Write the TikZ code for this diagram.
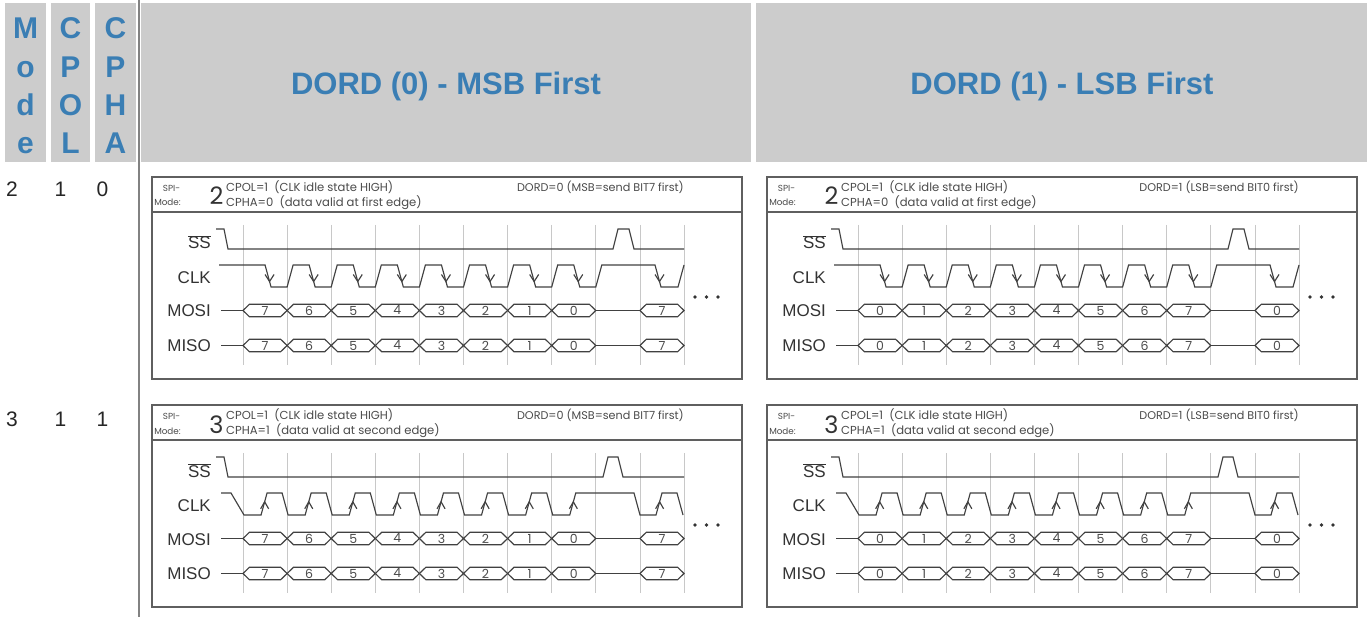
\documentclass[tikz,border=0pt]{standalone}
\usepackage{fontspec}
\setmainfont{Liberation Sans}
\newfontfamily\geo{Poppins}
\definecolor{hdrblue}{RGB}{58,126,180}
\definecolor{cellgray}{RGB}{204,204,204}
\definecolor{sepgray}{RGB}{130,130,130}
\definecolor{frameg}{RGB}{95,95,95}
\definecolor{sigc}{RGB}{65,65,65}
\definecolor{gridc}{RGB}{200,200,200}
\definecolor{txtg}{RGB}{75,75,75}
\tikzset{
 hdrtxt/.style={text=hdrblue, font=\fontsize{31}{31}\selectfont\bfseries, inner sep=0, anchor=base},
 colletter/.style={text=hdrblue, font=\fontsize{30}{30}\selectfont\bfseries, inner sep=0, anchor=base},
 rownum/.style={text=black!85, font=\fontsize{21}{21}\selectfont, inner sep=0, anchor=base west},
 frame/.style={draw=frameg, line width=1.6},
 sig/.style={draw=sigc, line width=1.15, line join=miter},
 gridl/.style={draw=gridc, line width=0.7},
 smalltxt/.style={text=txtg, font=\geo\fontsize{11.6}{12}\selectfont, inner sep=0},
 dordtxt/.style={text=txtg, font=\geo\fontsize{11.2}{12}\selectfont, inner sep=0, anchor=base east},
 tinytxt/.style={text=txtg, font=\geo\fontsize{8.8}{10}\selectfont, inner sep=0, anchor=base},
 bigdig/.style={text=black!80, font=\geo\fontsize{24}{24}\selectfont, inner sep=0, anchor=base},
 siglbl/.style={text=black!80, font=\fontsize{17}{17}\selectfont, inner sep=0, anchor=base east},
 digit/.style={text=black!70, font=\geo\fontsize{12.5}{12}\selectfont, inner sep=0},
 dotc/.style={fill=black!80, draw=none},
}
% #1 prefix, #2 xshift, #3 yshift, #4 mode digit, #5 CPHA text, #6 DORD text, #7 bit list, #8 last bit
\newcommand\tbox[8]{%
\begin{scope}[shift={(#2,#3)}]
 \draw[frame] (152,177) rectangle (742,379);
 \draw[frame] (152,212) -- (742,212);
 \node[tinytxt] (#1spi) at (171.5,191.5) {SPI-};
 \node[tinytxt] (#1mode) at (167.5,206) {Mode:};
 \node[bigdig] (#1num) at (216.5,205) {#4};
 \node[smalltxt, anchor=base west] (#1cpol) at (226,191.5) {CPOL=1\ \ (CLK idle state HIGH)};
 \node[smalltxt, anchor=base west] (#1cpha) at (226,206.5) {#5};
 \node[dordtxt] (#1dord) at (684,191.5) {#6};
 \foreach \k in {0,...,10} \draw[gridl] ({243+44.1*\k},225) -- ({243+44.1*\k},365);
 \node[siglbl] (#1ss) at (211,249) {$\overline{\hbox{SS}}$};
 \node[siglbl] (#1clk) at (211,283.5) {CLK};
 \node[siglbl] (#1mosi) at (211,317) {MOSI};
 \node[siglbl] (#1miso) at (211,351.5) {MISO};
 \ifnum#4=2
  \draw[sig] (216,229) -- (224,229) -- (228,249) -- (613,249) -- (618,229) -- (629,229) -- (634,249) -- (684,249);
  \draw[sig] (219,265)
   \foreach \k in {0,...,7} { -- ({265.05+44.1*\k},265) -- ({271.05+44.1*\k},287) -- ({287.1+44.1*\k},287) -- ({293.1+44.1*\k},265) }
   -- (655,265) -- (661,287) -- (678,287) -- (684,265);
  \foreach \tx in {269.55,313.65,357.75,401.85,445.95,490.05,534.15,578.25,659.5}
   \draw[sig] (\tx-4.5,274.5) -- (\tx,281.5) -- (\tx+4.5,274.5);
 \else
  \draw[sig] (216,229) -- (224,229) -- (228,249) -- (603,249) -- (608,229) -- (618,229) -- (623,249) -- (684,249);
  \draw[sig] (221,265) -- (231,265) -- (244,287)
   \foreach \k in {0,...,6} { -- ({261.05+44.1*\k},287) -- ({267.05+44.1*\k},265) -- ({282.1+44.1*\k},265) -- ({288.1+44.1*\k},287) }
   -- (569.75,287) -- (575.75,265) -- (634,265) -- (640,287) -- (656,287) -- (662,265) -- (677,265) -- (683,287);
  \foreach \tx in {264.65,308.75,352.85,396.95,441.05,485.15,529.25,573.35,659.6}
   \draw[sig] (\tx-4,280.8) -- (\tx,273.8) -- (\tx+4,280.8);
 \fi
 \foreach \m/\r in {310.5/o,345.5/i} {
  \draw[sig] (221,\m) -- (243,\m);
  \draw[sig] (595.8,\m) -- (639.9,\m);
  \foreach \d [count=\k from 0] in {#7} {
   \pgfmathsetmacro\ga{243+44.1*\k}
   \pgfmathsetmacro\gb{\ga+44.1}
   \draw[sig] (\ga,\m) -- (\ga+6.5,\m-6.3) -- (\gb-6.5,\m-6.3) -- (\gb,\m) -- (\gb-6.5,\m+6.3) -- (\ga+6.5,\m+6.3) -- cycle;
   \node[digit] (#1\r\k) at (\ga+22.05,\m) {\d};
  }
  \draw[sig] (639.9,\m) -- (646.4,\m-6.3) -- (677.5,\m-6.3) -- (684,\m) -- (677.5,\m+6.3) -- (646.4,\m+6.3) -- cycle;
  \node[digit] (#1\r last) at (661.95,\m) {#8};
 }
 \fill[dotc] (695,297) circle[radius=1.9pt];
 \fill[dotc] (706.5,297) circle[radius=1.9pt];
 \fill[dotc] (718,297) circle[radius=1.9pt];
\end{scope}}
\begin{document}
\begin{tikzpicture}[x=1pt,y=-1pt]
\useasboundingbox (0,0) rectangle (1370,617);
\fill[white] (0,0) rectangle (1370,617);
% header cells
\fill[cellgray] (5,3) rectangle (46,162);
\fill[cellgray] (51,3) rectangle (90,162);
\fill[cellgray] (95,3) rectangle (136,162);
\fill[cellgray] (141,3) rectangle (751,162);
\fill[cellgray] (756,3) rectangle (1367,162);
\draw[sepgray, line width=2] (139,0) -- (139,617);
\node[colletter] (m1) at (25.5,39) {M};
\node[colletter] (m2) at (25.5,77.5) {o};
\node[colletter] (m3) at (25.5,116) {d};
\node[colletter] (m4) at (25.5,154) {e};
\node[colletter] (p1) at (70.5,39) {C};
\node[colletter] (p2) at (70.5,77.5) {P};
\node[colletter] (p3) at (70.5,116) {O};
\node[colletter] (p4) at (70.5,154) {L};
\node[colletter] (a1) at (115.5,39) {C};
\node[colletter] (a2) at (115.5,77.5) {P};
\node[colletter] (a3) at (115.5,116) {H};
\node[colletter] (a4) at (115.5,154) {A};
\node[hdrtxt] (h0) at (446,95) {DORD (0) - MSB First};
\node[hdrtxt] (h1) at (1062,95) {DORD (1) - LSB First};
% row labels
\node[rownum] (r1a) at (6,197) {2};
\node[rownum] (r1b) at (54.5,197) {1};
\node[rownum] (r1c) at (96.5,197) {0};
\node[rownum] (r2a) at (6,426) {3};
\node[rownum] (r2b) at (54.5,426) {1};
\node[rownum] (r2c) at (96.5,426) {1};
% timing boxes
\tbox{ba}{0}{0}{2}{CPHA=0\ \ (data valid at first edge)}{DORD=0 (MSB=send BIT7 first)}{7,6,5,4,3,2,1,0}{7}
\tbox{bb}{615}{0}{2}{CPHA=0\ \ (data valid at first edge)}{DORD=1 (LSB=send BIT0 first)}{0,1,2,3,4,5,6,7}{0}
\tbox{bc}{0}{228}{3}{CPHA=1\ \ (data valid at second edge)}{DORD=0 (MSB=send BIT7 first)}{7,6,5,4,3,2,1,0}{7}
\tbox{bd}{615}{228}{3}{CPHA=1\ \ (data valid at second edge)}{DORD=1 (LSB=send BIT0 first)}{0,1,2,3,4,5,6,7}{0}
\end{tikzpicture}
\end{document}
